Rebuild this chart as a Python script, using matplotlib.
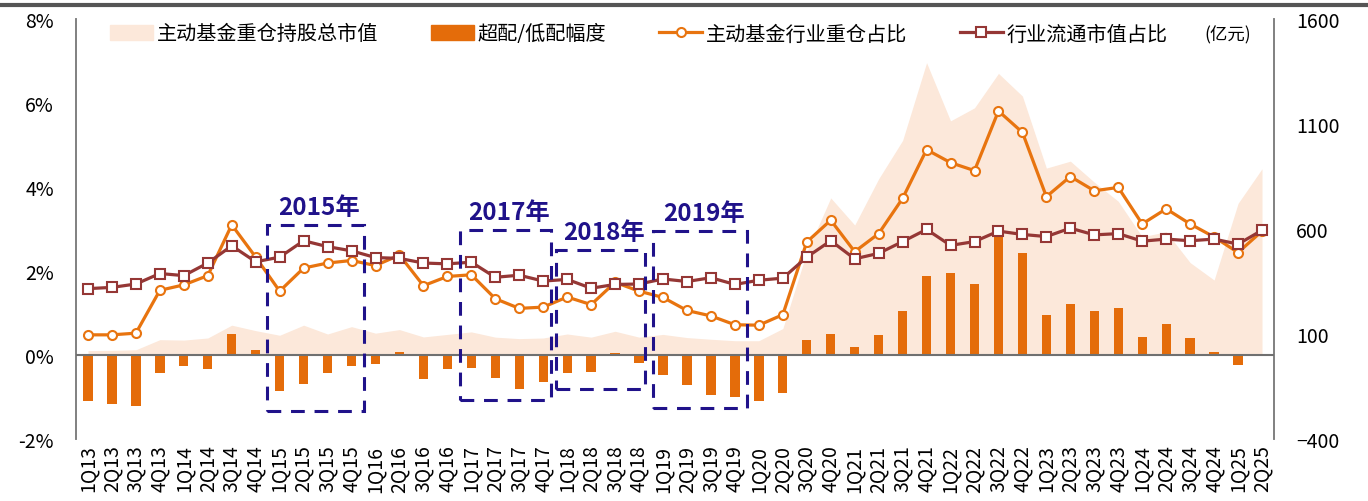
import matplotlib
matplotlib.use('Agg')
import matplotlib.pyplot as plt
from matplotlib.patches import Rectangle, Patch
from matplotlib.lines import Line2D

plt.rcParams['font.family'] = ['Noto Sans CJK SC', 'DejaVu Sans']

# quarters 1Q13 .. 2Q25
quarters = [f'{q}Q{y}' for y in range(13, 26) for q in range(1, 5)][:50]

# 主动基金重仓持股总市值 (亿元, right axis)
fund_mv = [21, 22, 25, 73, 71, 81, 142, 116, 94, 142,
           100, 135, 104, 121, 86, 98, 110, 85, 78, 81,
           100, 85, 113, 85, 98, 83, 75, 68, 68, 126,
           490, 748, 619, 839, 1022, 1392, 1115, 1177, 1341, 1233,
           890, 923, 823, 732, 563, 587, 440, 357, 722, 887]

# 超配/低配幅度 (%)
over_under = [-1.10, -1.16, -1.21, -0.43, -0.25, -0.33, 0.50, 0.12, -0.86, -0.70,
              -0.44, -0.25, -0.22, 0.07, -0.57, -0.33, -0.31, -0.55, -0.82, -0.64,
              -0.44, -0.41, 0.04, -0.20, -0.48, -0.71, -0.95, -1.00, -1.09, -0.90,
              0.36, 0.50, 0.18, 0.48, 1.04, 1.89, 1.96, 1.69, 2.90, 2.43,
              0.96, 1.22, 1.05, 1.11, 0.42, 0.74, 0.40, 0.06, -0.23, 0.01]

# 主动基金行业重仓占比 (%)
fund_weight = [0.48, 0.48, 0.52, 1.54, 1.67, 1.89, 3.10, 2.33, 1.52, 2.07,
               2.19, 2.25, 2.13, 2.38, 1.65, 1.87, 1.91, 1.34, 1.11, 1.14,
               1.38, 1.20, 1.73, 1.52, 1.37, 1.06, 0.93, 0.72, 0.71, 0.96,
               2.69, 3.21, 2.46, 2.89, 3.73, 4.89, 4.58, 4.39, 5.81, 5.30,
               3.77, 4.25, 3.91, 3.99, 3.12, 3.48, 3.12, 2.81, 2.44, 2.95]

# 行业流通市值占比 (%)
market_weight = [1.58, 1.61, 1.69, 1.94, 1.89, 2.19, 2.60, 2.22, 2.33, 2.72,
                 2.58, 2.48, 2.32, 2.30, 2.19, 2.17, 2.21, 1.85, 1.90, 1.76,
                 1.80, 1.59, 1.68, 1.69, 1.81, 1.75, 1.84, 1.68, 1.78, 1.83,
                 2.33, 2.72, 2.29, 2.42, 2.70, 2.99, 2.61, 2.70, 2.95, 2.87,
                 2.82, 3.02, 2.86, 2.89, 2.71, 2.76, 2.72, 2.76, 2.64, 2.97]

# highlighted periods: label, x range (category index), y range (%)
box_labels = ['2015年', '2017年', '2018年', '2019年']
box_x = [(7.47, 11.52), (15.53, 19.32), (19.53, 23.25), (23.58, 27.5)]
box_y = [(-1.33, 3.09), (-1.07, 2.97), (-0.81, 2.49), (-1.26, 2.95)]

c_area = '#FCE8DA'
c_bar = '#E46C0A'
c_fund = '#E8740F'
c_mkt = '#953735'
c_box = '#20128A'
c_axis = '#808080'

x = list(range(len(quarters)))

fig = plt.figure(figsize=(13.68, 5.02), dpi=100)
ax = fig.add_axes([76 / 1368, 62 / 502, 1198 / 1368, 420 / 502])
ax2 = ax.twinx()
ax.set_zorder(ax2.get_zorder() + 1)
ax.patch.set_visible(False)

ax2.fill_between(x, fund_mv, 0, color=c_area, lw=0)
ax2.set_ylim(-400, 1600)
ax2.set_yticks([-400, 100, 600, 1100, 1600])

ax.bar(x, over_under, width=0.39, color=c_bar, zorder=2)
ax.axhline(0, color='#707070', lw=1.5, zorder=3)
ax.plot(x, fund_weight, color=c_fund, lw=2.3, marker='o', ms=6.5,
        mfc='white', mec=c_fund, mew=1.5, zorder=4)
ax.plot(x, market_weight, color=c_mkt, lw=2.3, marker='s', ms=6.5,
        mfc='white', mec=c_mkt, mew=1.5, zorder=5)

for lab, (x0, x1), (y0, y1) in zip(box_labels, box_x, box_y):
    ax.add_patch(Rectangle((x0, y0), x1 - x0, y1 - y0, fill=False, ec=c_box,
                           lw=2.2, ls=(0, (4.5, 3.2)), zorder=6))
    ax.text((x0 + x1) / 2 + 0.15, y1 + 0.44, lab, color=c_box, fontsize=17.5,
            fontweight='bold', ha='center', va='center', zorder=6)

ax.set_xlim(-0.5, 49.5)
ax.set_ylim(-2, 8)
ax.set_yticks([-2, 0, 2, 4, 6, 8])
ax.set_yticklabels([f'{v}%' for v in [-2, 0, 2, 4, 6, 8]])
ax.set_xticks(x)
ax.set_xticklabels(quarters, rotation=90)

for a in (ax, ax2):
    for s in ('top', 'bottom'):
        a.spines[s].set_visible(False)
    a.spines['left'].set_color(c_axis)
    a.spines['right'].set_color(c_axis)
    a.spines['left'].set_linewidth(1.2)
    a.spines['right'].set_linewidth(1.2)
ax.tick_params(axis='y', length=0, pad=16, labelsize=14)
ax.tick_params(axis='x', length=0, pad=4, labelsize=14)
ax2.tick_params(axis='y', length=0, pad=16, labelsize=14)

handles = [Patch(color=c_area),
           Patch(color=c_bar),
           Line2D([], [], color=c_fund, lw=2.3, marker='o', ms=6.5, mfc='white', mec=c_fund, mew=1.5),
           Line2D([], [], color=c_mkt, lw=2.3, marker='s', ms=6.5, mfc='white', mec=c_mkt, mew=1.5)]
labels = ['主动基金重仓持股总市值', '超配/低配幅度', '主动基金行业重仓占比', '行业流通市值占比']
fig.legend(handles, labels, loc='center left', bbox_to_anchor=(110 / 1368, 1 - 35 / 502),
           ncol=4, frameon=False, fontsize=14.5, handlelength=2.14, handleheight=0.75,
           handletextpad=0.2, columnspacing=2.6, borderpad=0, borderaxespad=0)
fig.text(1228 / 1368, 1 - 35 / 502, '(亿元)', fontsize=12.5, ha='center', va='center')

# header rule of the cropped page
fig.add_artist(Line2D([0, 1], [1 - 6 / 502, 1 - 6 / 502], color='#555555', lw=3,
                      transform=fig.transFigure))

fig.savefig('out.png', dpi=100)
